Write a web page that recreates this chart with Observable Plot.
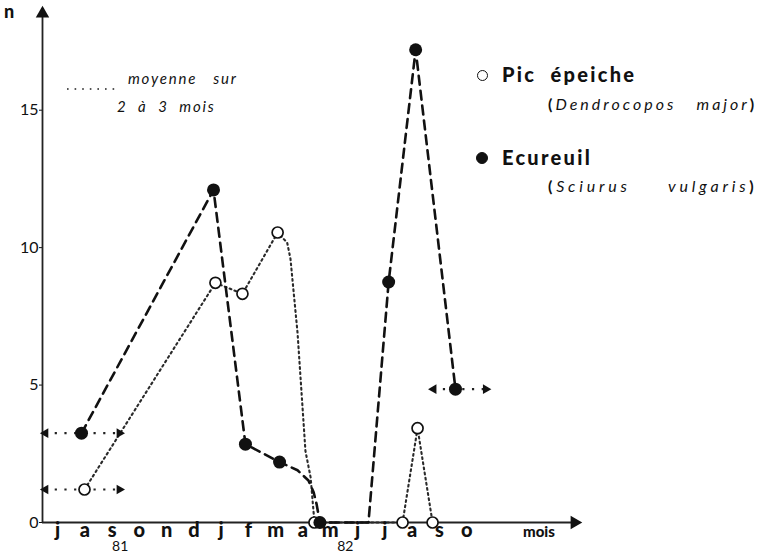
<!DOCTYPE html>
<html><head><meta charset="utf-8">
<script src="https://cdn.jsdelivr.net/npm/d3@7"></script>
<script src="https://cdn.jsdelivr.net/npm/@observablehq/plot@0.6"></script>
<style>
body{margin:0;background:#fff;}
#wrap{position:relative;width:767px;height:560px;font-family:Lato,"Open Sans",sans-serif;color:#111;}
.lab{position:absolute;white-space:nowrap;line-height:1;}
.dot{position:absolute;border-radius:50%;box-sizing:border-box;}
</style></head><body><div id="wrap"></div>
<script>
// x = month index (0 = juillet 1981), y = n
const monthIndex = [0,1,2,3,4,5,6,7,8,9,10,11,12,13,14,15];
const monthLabels = ["j","a","s","o","n","d","j","f","m","a","m","j","j","a","s","o"];
const yearLabels = ["81","82"];
const yearPos = [2.3, 10.55];
const yTicks = [0,5,10,15];

// Écureuil (filled points)
const ecuX = [0.88, 5.72, 6.89, 8.14, 9.62, 12.14, 13.13, 14.59];
const ecuY = [3.25, 12.1, 2.85, 2.2, 0, 8.75, 17.2, 4.85];
// Écureuil dashed path as read on the picture
const ecuLineX = [0.88, 5.72, 6.89, 8.14, 8.8, 9.2, 9.39, 9.5, 9.62, 11.4, 12.14, 13.13, 14.59];
const ecuLineY = [3.25, 12.1, 2.85, 2.2, 1.9, 1.53, 1.1, 0.66, 0, 0, 8.75, 17.2, 4.85];

// Pic épeiche (open points)
const picX = [0.99, 5.79, 6.78, 8.07, 9.42, 12.65, 13.2, 13.75];
const picY = [1.2, 8.72, 8.32, 10.55, 0, 0, 3.43, 0];
// Pic épeiche dotted path as read on the picture
const picLineX = [0.99, 5.79, 6.78, 8.07, 8.42, 8.54, 8.8, 9.09, 9.28, 9.42, 12.65, 13.2, 13.75];
const picLineY = [1.2, 8.72, 8.32, 10.55, 10.18, 9.6, 6.9, 2.6, 1.64, 0, 0, 3.43, 0];

// means over 2-3 months (horizontal double arrows)
const meanY  = [3.25, 1.2, 4.85];
const meanLo = [-0.44, -0.44, 13.79];
const meanHi = [2.27, 2.27, 15.7];

const X0 = -0.55, X1 = 19.1, Y1 = 18.7;

const ecuPts = ecuX.map((x,i)=>({x, y:ecuY[i]}));
const ecuPath = ecuLineX.map((x,i)=>({x, y:ecuLineY[i]}));
const picPts = picX.map((x,i)=>({x, y:picY[i]}));
const picPath = picLineX.map((x,i)=>({x, y:picLineY[i]}));
const means = meanY.map((y,i)=>({y, lo:meanLo[i], hi:meanHi[i]}));

const chart = Plot.plot({
  width: 767, height: 560,
  marginLeft: 42, marginRight: 189, marginTop: 8, marginBottom: 38,
  style: {fontFamily: "Lato, 'Open Sans', sans-serif", fontSize: "16px", background: "white", color: "#111"},
  x: {domain: [X0, X1], axis: null},
  y: {domain: [0, Y1], ticks: yTicks, tickSize: 3, tickPadding: 1, label: null, tickFormat: d => String(d)},
  marks: [
    Plot.ruleY([0], {stroke: "#222", strokeWidth: 1.8}),
    Plot.ruleX([X0], {stroke: "#222", strokeWidth: 1.8}),
    Plot.dot([{x: X0, y: Y1}], {x: "x", y: "y", symbol: "triangle", r: 5, fill: "#111", stroke: null, dy: 5}),
    Plot.dot([{x: X1, y: 0}], {x: "x", y: "y", symbol: "triangle", r: 5, fill: "#111", stroke: null, rotate: 90, dx: -4}),
    Plot.line(picPath, {x: "x", y: "y", stroke: "#2a2a2a", strokeWidth: 2.1, strokeDasharray: "1.8,3.4"}),
    Plot.line(ecuPath, {x: "x", y: "y", stroke: "#111", strokeWidth: 2.6, strokeDasharray: "9,6"}),
    Plot.ruleY(means, {y: "y", x1: "lo", x2: "hi", stroke: "#222", strokeWidth: 2.2, strokeDasharray: "2.2,7.5"}),
    Plot.dot(means, {x: "lo", y: "y", symbol: "triangle", r: 3.6, fill: "#111", stroke: null, rotate: -90}),
    Plot.dot(means, {x: "hi", y: "y", symbol: "triangle", r: 3.6, fill: "#111", stroke: null, rotate: 90}),
    Plot.dot(picPts, {x: "x", y: "y", r: 5.5, fill: "white", stroke: "#111", strokeWidth: 1.7}),
    Plot.dot(ecuPts, {x: "x", y: "y", r: 6.5, fill: "#111", stroke: null}),
    Plot.text(monthIndex, {x: d => d, text: i => monthLabels[i], frameAnchor: "bottom", dy: 14, fontSize: 20, fontWeight: 900}),
    Plot.text(yearLabels, {x: (d, i) => yearPos[i], text: d => d, frameAnchor: "bottom", dy: 28, fontSize: 14})
  ]
});

const wrap = document.getElementById("wrap");
wrap.appendChild(chart);

function lab(html, left, top, style) {
  const d = document.createElement("div");
  d.className = "lab";
  d.innerHTML = html;
  d.style.left = left + "px";
  d.style.top = top + "px";
  Object.assign(d.style, style || {});
  wrap.appendChild(d);
  return d;
}
function circ(cx, cy, r, filled) {
  const d = document.createElement("div");
  d.className = "dot";
  d.style.left = (cx - r) + "px"; d.style.top = (cy - r) + "px";
  d.style.width = d.style.height = (2 * r) + "px";
  d.style.border = "1.6px solid #111";
  d.style.background = filled ? "#111" : "white";
  wrap.appendChild(d);
}

lab("n", 4, 2, {fontWeight: 900, fontSize: "18px"});
lab("mois", 523, 524, {fontWeight: 900, fontSize: "15px"});

// moyenne legend
lab('<svg width="50" height="4"><line x1="1" y1="2" x2="49" y2="2" stroke="#555" stroke-width="2" stroke-dasharray="1.6,6"/></svg>', 66, 77);
lab("moyenne&nbsp;&nbsp; sur", 128, 71, {fontStyle: "italic", fontSize: "15px", letterSpacing: "1.8px"});
lab("2&nbsp; à&nbsp; 3&nbsp; mois", 117, 99, {fontStyle: "italic", fontSize: "15px", letterSpacing: "1.8px"});

// species legend
circ(482, 75, 5.5, false);
lab("Pic&nbsp; épeiche", 502, 64, {fontWeight: 900, fontSize: "20px", letterSpacing: "2.3px"});
lab('<b>(</b><i>Dendrocopos&nbsp;&nbsp; major</i><b>)</b>', 548, 96, {fontSize: "16px", letterSpacing: "3px"});
circ(482, 158, 6, true);
lab("Ecureuil", 502, 147, {fontWeight: 900, fontSize: "20px", letterSpacing: "2.3px"});
lab('<b>(</b><i>Sciurus&nbsp;&nbsp;&nbsp;&nbsp; vulgaris</i><b>)</b>', 548, 178, {fontSize: "16px", letterSpacing: "3.8px"});
</script></body></html>
